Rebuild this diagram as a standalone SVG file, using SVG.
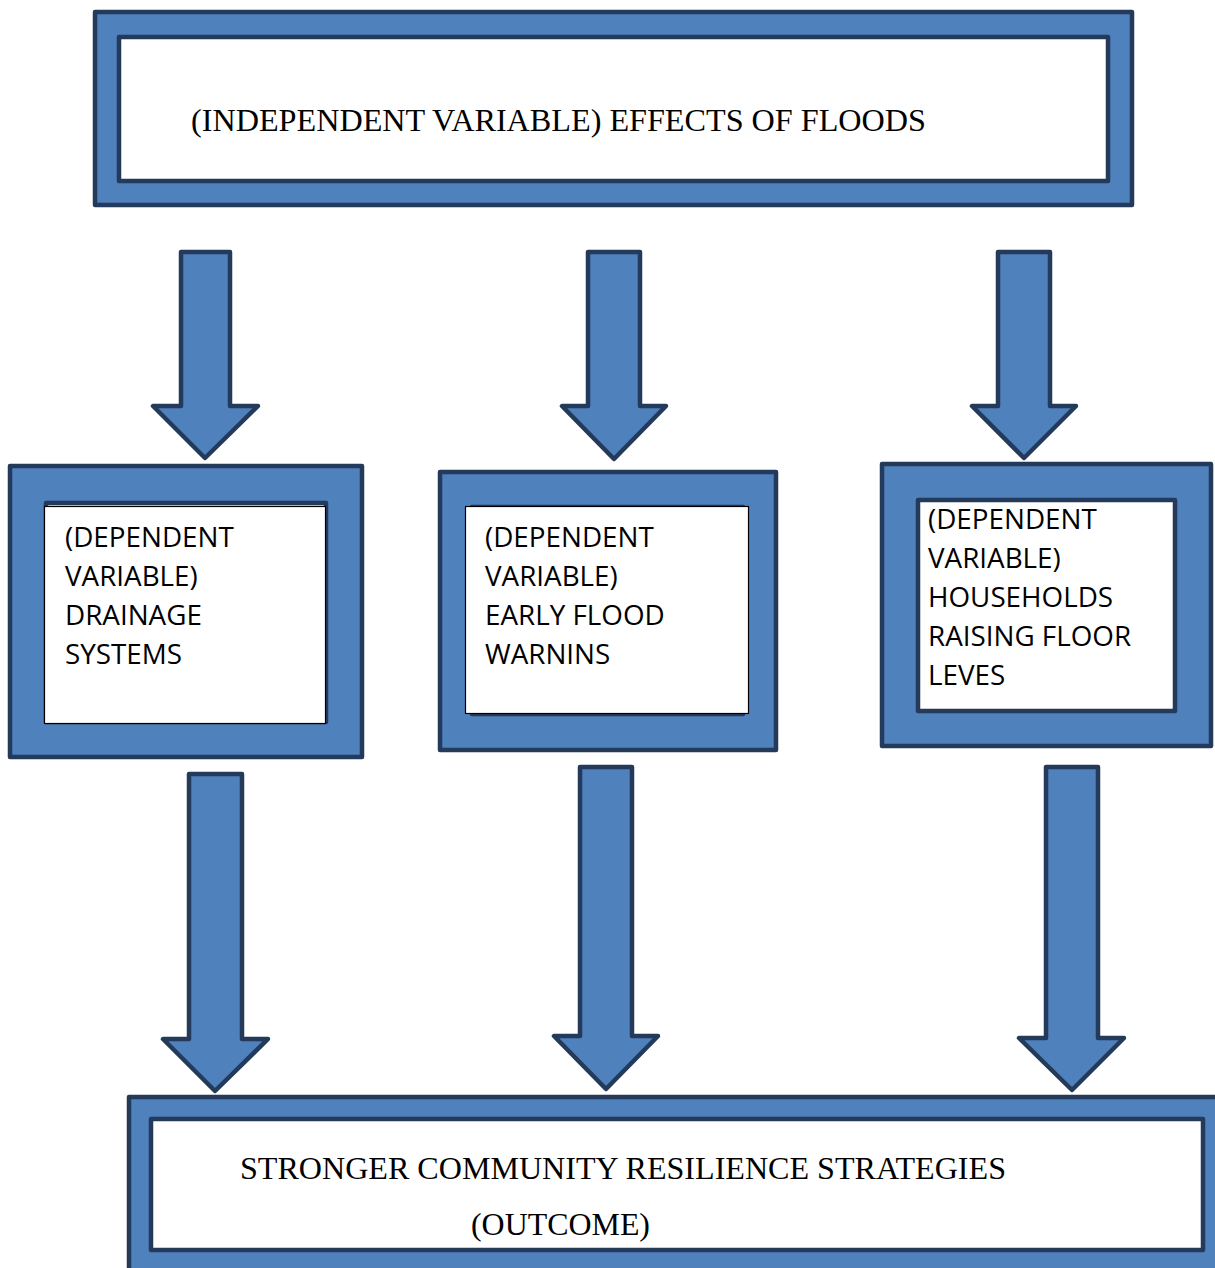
<svg xmlns="http://www.w3.org/2000/svg" width="1215" height="1268" viewBox="0 0 1215 1268">
<style>
.outer{fill:#4f81bd;stroke:#243a5a;stroke-width:4.5;stroke-linejoin:round}
.inner{fill:#ffffff;stroke:#243a5a;stroke-width:4.5;stroke-linejoin:round}
.thin{fill:#ffffff;stroke:#000000;stroke-width:1.2}
.arrow{fill:#4f81bd;stroke:#243a5a;stroke-width:4.5;stroke-linejoin:round}
.serif{font-family:'Liberation Serif','Times New Roman',serif;font-size:32.5px;fill:#000}
.sans{font-family:'Open Sans','Noto Sans',sans-serif;font-size:27.8px;fill:#000}
</style>
<rect width="1215" height="1268" fill="#ffffff"/>
<g id="independent">
<rect class="outer" x="95" y="12" width="1037" height="193"/>
<rect class="inner" x="119" y="37" width="989" height="144"/>
<text class="serif" x="191" y="131" textLength="735" lengthAdjust="spacingAndGlyphs">(INDEPENDENT VARIABLE) EFFECTS OF FLOODS</text>
</g>
<g id="drainage">
<rect class="outer" x="10" y="466" width="352" height="291"/>
<rect class="inner" x="46" y="503" width="280" height="219"/>
<rect class="thin" x="44.5" y="506.5" width="281" height="217"/>
<text class="sans" x="65" y="547">(DEPENDENT</text>
<text class="sans" x="65" y="586">VARIABLE)</text>
<text class="sans" x="65" y="625">DRAINAGE</text>
<text class="sans" x="65" y="664">SYSTEMS</text>
</g>
<g id="warnings">
<rect class="outer" x="440" y="472" width="336" height="278"/>
<rect class="inner" x="472" y="507" width="271" height="207"/>
<rect class="thin" x="465.5" y="506.5" width="283" height="207"/>
<text class="sans" x="485" y="547">(DEPENDENT</text>
<text class="sans" x="485" y="586">VARIABLE)</text>
<text class="sans" x="485" y="625">EARLY FLOOD</text>
<text class="sans" x="485" y="664">WARNINS</text>
</g>
<g id="households">
<rect class="outer" x="882" y="464" width="329" height="282"/>
<rect class="inner" x="918" y="500" width="257" height="211"/>
<text class="sans" x="928" y="529">(DEPENDENT</text>
<text class="sans" x="928" y="568">VARIABLE)</text>
<text class="sans" x="928" y="607">HOUSEHOLDS</text>
<text class="sans" x="928" y="646">RAISING FLOOR</text>
<text class="sans" x="928" y="685">LEVES</text>
</g>
<g id="outcome">
<rect class="outer" x="129" y="1097" width="1110" height="200"/>
<rect class="inner" x="151" y="1119" width="1052" height="131"/>
<text class="serif" x="240" y="1179" textLength="766" lengthAdjust="spacingAndGlyphs">STRONGER COMMUNITY RESILIENCE STRATEGIES</text>
<text class="serif" x="471" y="1235" textLength="179" lengthAdjust="spacingAndGlyphs">(OUTCOME)</text>
</g>
<g id="connectors">
<path class="arrow" d="M181 252H230V406H258L205 458L153 406H181Z"/>
<path class="arrow" d="M588 252H640V406H666L614 459L562 406H588Z"/>
<path class="arrow" d="M998 252H1050V406H1076L1024 458L972 406H998Z"/>
<path class="arrow" d="M189 774H242V1039H268L215 1091L163 1039H189Z"/>
<path class="arrow" d="M580 767H632V1036H658L606 1089L554 1036H580Z"/>
<path class="arrow" d="M1046 767H1098V1038H1124L1072 1090L1019 1038H1046Z"/>
</g>
</svg>
